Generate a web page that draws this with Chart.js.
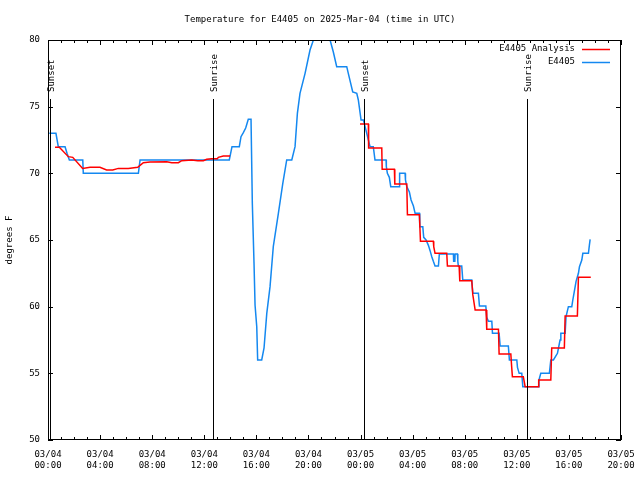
<!DOCTYPE html>
<html>
<head>
<meta charset="utf-8">
<script src="https://cdn.jsdelivr.net/npm/chart.js@4.4.1/dist/chart.umd.min.js"></script>
<style>
    html, body { margin: 0; padding: 0; background: #fff; }
</style>
</head>
<body>
<canvas id="tempChart" width="640" height="480"></canvas>
<script>
// hours since 03/04 00:00 UTC
const obsHours = [0.1, 0.61, 0.79, 1.31, 1.46, 1.64, 2.67, 2.71, 6.94, 7.07, 13.92, 14.13, 14.69, 14.82, 15.0, 15.18, 15.38, 15.59,
    15.69, 15.82, 15.9, 16.03, 16.1, 16.41, 16.59, 16.8, 17.05, 17.3, 17.69, 18.03, 18.33, 18.72, 18.97, 19.15, 19.35, 19.74,
    20.12, 20.38, 20.7, 21.0, 21.3, 21.66, 21.91, 22.17, 22.94, 23.06, 23.4, 23.71, 23.83, 24.04, 24.22, 24.35, 24.6, 24.73,
    24.98, 25.11, 25.96, 25.98, 26.06, 26.21, 26.32, 26.96, 27.0, 27.42, 27.45, 27.55, 27.75, 27.88, 28.06, 28.19, 28.52, 28.55,
    28.78, 28.85, 29.03, 29.21, 29.34, 29.47, 29.59, 29.72, 29.98, 30.05, 31.13, 31.15, 31.24, 31.26, 31.44, 31.47, 31.51, 31.77,
    31.85, 32.54, 32.62, 33.05, 33.13, 33.62, 33.69, 33.82, 34.08, 34.13, 34.64, 34.72, 35.35, 35.43, 36.0, 36.05, 36.18, 36.38,
    36.46, 37.66, 37.7, 37.84, 38.5, 38.61, 38.81, 39.12, 39.2, 39.32, 39.38, 39.71, 39.78, 39.96, 40.22, 40.3, 40.4, 40.48,
    40.55, 40.73, 40.81, 40.99, 41.07, 41.5, 41.57, 41.63, 41.68];
const obsTemps = [73.0, 73.0, 72.0, 72.0, 71.5, 71.0, 71.0, 70.0, 70.0, 71.0, 71.0, 72.0, 72.0, 72.75, 73.05, 73.4, 74.05, 74.05,
    67.75, 63.25, 60.1, 58.5, 56.0, 56.0, 56.9, 59.5, 61.5, 64.5, 67.0, 69.25, 71.0, 71.0, 72.0, 74.5, 76.0, 77.5,
    79.25, 80.0, 81.0, 81.5, 81.0, 80.0, 79.1, 78.0, 78.0, 77.5, 76.1, 76.0, 75.5, 74.0, 74.0, 73.5, 72.5, 72.0,
    72.0, 71.0, 71.0, 70.5, 70.0, 69.7, 69.0, 69.0, 70.0, 70.0, 69.5, 69.0, 68.6, 68.0, 67.55, 67.0, 67.0, 66.0,
    66.0, 65.2, 65.0, 64.6, 64.2, 63.75, 63.4, 63.05, 63.05, 63.95, 63.95, 63.4, 63.4, 63.95, 63.95, 63.4, 63.05, 63.05,
    62.0, 62.0, 61.0, 61.0, 60.05, 60.05, 59.2, 58.9, 58.9, 58.0, 58.0, 57.05, 57.05, 56.0, 56.0, 55.45, 55.0, 55.0,
    54.0, 54.0, 54.5, 55.0, 55.0, 56.0, 56.0, 56.5, 56.9, 57.5, 58.0, 58.0, 59.25, 60.0, 60.0, 60.5, 61.05, 61.5,
    61.9, 62.5, 63.0, 63.5, 64.0, 64.0, 64.6, 65.05, 65.05];

const anaHours = [0.54, 0.87, 1.56, 1.9, 2.66, 3.23, 3.99, 4.5, 4.97, 5.4, 6.17, 6.89, 7.07, 7.32, 7.83, 9.12, 9.5, 10.01,
    10.27, 11.04, 11.5, 11.93, 12.19, 12.57, 13.0, 13.08, 13.46, 13.98,
    19.0,
    23.96, 24.6, 24.62, 25.63, 25.66, 26.6, 26.63, 27.55, 27.6, 28.52, 28.6, 29.59, 29.62, 29.72, 30.62, 30.67, 31.57, 31.62,
    32.54, 32.62, 32.8, 33.64, 33.69, 34.59, 34.64, 35.54, 35.6, 35.66, 36.5, 36.64, 37.66, 37.68, 38.61, 38.68, 39.65, 39.71,
    40.65, 40.73, 41.68];
const anaTemps = [71.95, 71.95, 71.25, 71.2, 70.37, 70.45, 70.45, 70.25, 70.25, 70.37, 70.37, 70.45, 70.6, 70.8, 70.85, 70.87, 70.8, 70.8,
    70.95, 71.0, 70.95, 70.95, 71.05, 71.1, 71.1, 71.2, 71.3, 71.3,
    null,
    73.7, 73.7, 71.9, 71.9, 70.3, 70.3, 69.2, 69.2, 66.9, 66.9, 64.9, 64.9, 64.5, 64.0, 64.0, 63.05, 63.05, 61.95,
    61.95, 60.9, 59.75, 59.75, 58.3, 58.3, 56.45, 56.45, 55.55, 54.75, 54.75, 54.0, 54.0, 54.5, 54.5, 56.9, 56.9, 59.3,
    59.3, 62.2, 62.2];

const sunHours = [0.15, 12.67, 24.27, 36.79];
const sunLabels = ['Sunset', 'Sunrise', 'Sunset', 'Sunrise'];

const tickDays = ['03/04', '03/04', '03/04', '03/04', '03/04', '03/04', '03/05', '03/05', '03/05', '03/05', '03/05', '03/05'];
const tickTimes = ['00:00', '04:00', '08:00', '12:00', '16:00', '20:00', '00:00', '04:00', '08:00', '12:00', '16:00', '20:00'];

const seriesNames = ['E4405 Analysis', 'E4405'];
const seriesColors = ['#ff0000', 'rgb(20,136,240)'];

const monoFont = "'DejaVu Sans Mono', 'Liberation Mono', monospace";

// border, inward ticks, sunrise/sunset markers and key, drawn gnuplot-style
const gnuplotFrame = {
    id: 'gnuplotFrame',
    afterDatasetsDraw(chart) {
        const { ctx, chartArea: a, scales: { x, y } } = chart;
        ctx.save();
        ctx.strokeStyle = '#000';
        ctx.fillStyle = '#000';
        ctx.lineWidth = 1;
        ctx.font = '9px ' + monoFont;

        sunHours.forEach((h, i) => {
            const px = Math.round(x.getPixelForValue(h)) + 0.5;
            ctx.beginPath();
            ctx.moveTo(px, a.top + 59);
            ctx.lineTo(px, a.bottom);
            ctx.stroke();
            ctx.save();
            ctx.translate(px + 1, a.top + 52);
            ctx.rotate(-Math.PI / 2);
            ctx.textAlign = 'left';
            ctx.textBaseline = 'middle';
            ctx.fillText(sunLabels[i], 0, 0);
            ctx.restore();
        });

        ctx.strokeRect(a.left + 0.5, a.top + 0.5, a.right - a.left - 1, a.bottom - a.top - 1);

        ctx.beginPath();
        for (let h = 0; h <= 44; h++) {
            const px = Math.round(x.getPixelForValue(h)) + 0.5;
            const len = h % 4 === 0 ? 5 : 3;
            ctx.moveTo(px, a.bottom);
            ctx.lineTo(px, a.bottom - len);
            ctx.moveTo(px, a.top);
            ctx.lineTo(px, a.top + len);
        }
        for (let t = 50; t <= 80; t += 5) {
            const py = Math.round(y.getPixelForValue(t)) + 0.5;
            ctx.moveTo(a.left, py);
            ctx.lineTo(a.left + 5, py);
            ctx.moveTo(a.right, py);
            ctx.lineTo(a.right - 5, py);
        }
        ctx.stroke();

        // key
        ctx.textAlign = 'right';
        ctx.textBaseline = 'middle';
        seriesNames.forEach((name, i) => {
            const ky = 49 + i * 13;
            ctx.fillStyle = '#000';
            ctx.fillText(name, 575, ky);
            ctx.strokeStyle = seriesColors[i];
            ctx.lineWidth = 1.5;
            ctx.beginPath();
            ctx.moveTo(582, ky + 0.5);
            ctx.lineTo(610, ky + 0.5);
            ctx.stroke();
        });
        ctx.restore();
    }
};

document.addEventListener('DOMContentLoaded', () => {
    const ctx = document.getElementById('tempChart').getContext('2d');
    new Chart(ctx, {
        type: 'line',
        data: {
            datasets: [
                {
                    label: seriesNames[0],
                    data: anaHours.map((h, i) => ({ x: h, y: anaTemps[i] })),
                    borderColor: seriesColors[0],
                    borderWidth: 1.5,
                    pointRadius: 0,
                    spanGaps: false,
                    order: 0
                },
                {
                    label: seriesNames[1],
                    data: obsHours.map((h, i) => ({ x: h, y: obsTemps[i] })),
                    borderColor: seriesColors[1],
                    borderWidth: 1.5,
                    pointRadius: 0,
                    order: 1
                }
            ]
        },
        options: {
            responsive: false,
            animation: false,
            plugins: {
                legend: { display: false },
                tooltip: { enabled: false },
                title: {
                    display: true,
                    text: 'Temperature for E4405 on 2025-Mar-04 (time in UTC)',
                    color: '#000',
                    font: { family: monoFont, size: 9, weight: 'normal' },
                    padding: { top: 14, bottom: 15.2 }
                }
            },
            scales: {
                x: {
                    type: 'linear',
                    min: 0,
                    max: 44,
                    grid: { display: false, drawTicks: false },
                    border: { display: false },
                    ticks: {
                        stepSize: 4,
                        autoSkip: false,
                        maxRotation: 0,
                        padding: 9,
                        color: '#000',
                        font: { family: monoFont, size: 9, lineHeight: 1.25 },
                        callback: (v) => [tickDays[v / 4], tickTimes[v / 4]]
                    },
                    afterFit: (s) => {
                        s.height = 40;
                        s.paddingLeft = 0;
                        s.paddingRight = 0;
                    }
                },
                y: {
                    min: 50,
                    max: 80,
                    grid: { display: false, drawTicks: false },
                    border: { display: false },
                    ticks: {
                        stepSize: 5,
                        padding: 8,
                        color: '#000',
                        font: { family: monoFont, size: 9 }
                    },
                    title: {
                        display: true,
                        text: 'degrees F',
                        color: '#000',
                        font: { family: monoFont, size: 9 },
                        padding: { top: 4, bottom: 0 }
                    },
                    afterFit: (s) => { s.width = 48; }
                },
                // empty right-hand margin so the title stays centred on the page
                yRight: {
                    position: 'right',
                    min: 50,
                    max: 80,
                    grid: { display: false, drawTicks: false },
                    border: { display: false },
                    ticks: { display: false },
                    afterFit: (s) => { s.width = 19; }
                }
            }
        },
        plugins: [gnuplotFrame]
    });
});
</script>
</body>
</html>
